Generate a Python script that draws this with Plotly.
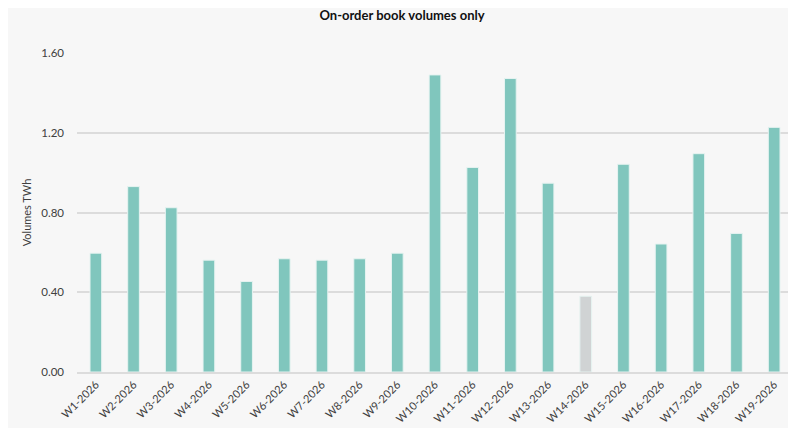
import plotly.graph_objects as go

weeks = ["W1-2026", "W2-2026", "W3-2026", "W4-2026", "W5-2026", "W6-2026", "W7-2026",
         "W8-2026", "W9-2026", "W10-2026", "W11-2026", "W12-2026", "W13-2026", "W14-2026",
         "W15-2026", "W16-2026", "W17-2026", "W18-2026", "W19-2026"]
volumes = [0.596, 0.93, 0.824, 0.561, 0.454, 0.568, 0.561, 0.568, 0.596, 1.49,
           1.026, 1.472, 0.947, 0.38, 1.042, 0.642, 1.095, 0.695, 1.227]
# W14 is shown greyed out
highlight = ["W14-2026"]

colors = ["#d0d3d4" if w in highlight else "#80c6bd" for w in weeks]

fig = go.Figure(go.Bar(
    x=weeks, y=volumes,
    marker=dict(color=colors, line=dict(color="#e6f3f1", width=1)),
    width=0.31,
))

# page body has an 8px margin, so the figure is a bit smaller than the window
fig.update_layout(
    title=dict(text="<b>On-order book volumes only</b>", x=0.5, xanchor="center",
               y=0.982, yanchor="middle", font=dict(size=13, color="#111111")),
    font=dict(family="Lato, Open Sans, sans-serif", size=11, color="#404040"),
    paper_bgcolor="#f7f7f7", plot_bgcolor="#f7f7f7",
    width=788, height=420,
    margin=dict(l=69, r=3, t=45, b=56),
    showlegend=False,
)
fig.update_yaxes(range=[0, 1.6], dtick=0.4, tickformat=".2f", automargin=False,
                 gridcolor="#dcdcdc", gridwidth=1.5, zeroline=False,
                 ticks="", ticklabelstandoff=12, tickfont=dict(size=11.5),
                 title=dict(text="Volumes TWh", font=dict(size=11, color="#404040"), standoff=7))
fig.update_xaxes(tickangle=-45, showline=True, linecolor="#dcdcdc", linewidth=2,
                 ticks="", tickfont=dict(size=11), automargin=False)

fig.write_html("out.html")
